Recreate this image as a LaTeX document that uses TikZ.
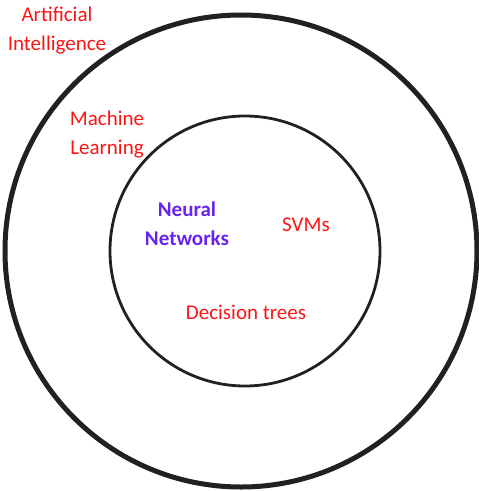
\documentclass[tikz,border=0pt]{standalone}
\usepackage{fontspec}
\setmainfont{Carlito}
\definecolor{labelred}{RGB}{255,20,20}
\definecolor{nnpurple}{RGB}{104,36,238}
\begin{document}
\begin{tikzpicture}[x=1pt,y=-1pt,
  ring/.style={draw=black!87},
  lbl/.style={font=\fontsize{21}{29}\selectfont, text=labelred, align=center, inner sep=0pt},
  nnlbl/.style={lbl, font=\fontsize{21}{29}\selectfont\bfseries, text=nnpurple}]
\useasboundingbox (0,0) rectangle (479,491);
% nested fields
\draw[ring, line width=5pt] (241,251) circle[radius=236];
\draw[ring, line width=2.8pt] (245,251) circle[radius=135];
% labels
\node[lbl] (ai) at (57,31) {Artificial\\Intelligence};
\node[lbl] (ml) at (107,135) {Machine\\Learning};
\node[nnlbl] (nn) at (187,224) {Neural\\Networks};
\node[lbl] (svm) at (306,224.5) {SVMs};
\node[lbl] (dt) at (246,312.5) {Decision trees};
\end{tikzpicture}
\end{document}
